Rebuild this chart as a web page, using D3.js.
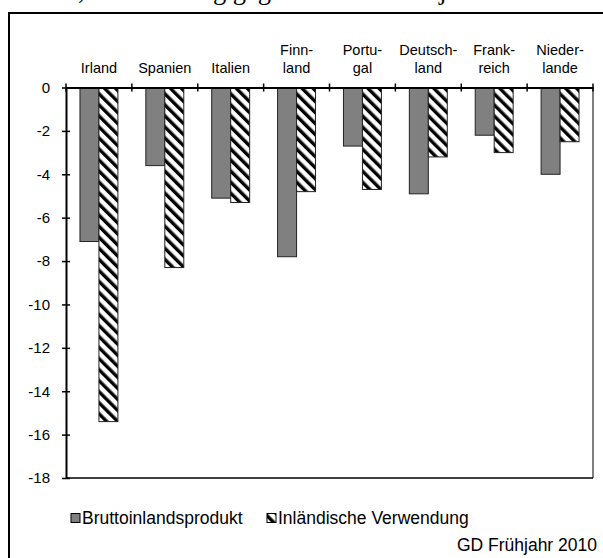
<!DOCTYPE html>
<html>
<head>
<meta charset="utf-8">
<script src="https://cdn.jsdelivr.net/npm/d3@7"></script>
<style>
  body { margin: 0; background: #fff; }
  svg text { font-family: Arial, "Liberation Sans", sans-serif; }
</style>
</head>
<body>
<svg width="603" height="558"></svg>
<script>
(function() {

  // data
  var categories = ['Irland', 'Spanien', 'Italien', 'Finn-\nland', 'Portu-\ngal', 'Deutsch-\nland', 'Frank-\nreich', 'Nieder-\nlande'];
  var bip = [-7.1, -3.6, -5.1, -7.8, -2.7, -4.9, -2.2, -4.0];
  var inlVerw = [-15.4, -8.3, -5.3, -4.8, -4.7, -3.2, -3.0, -2.5];
  var seriesNames = ['Bruttoinlandsprodukt', 'Inländische Verwendung'];
  var yTicks = [0, -2, -4, -6, -8, -10, -12, -14, -16, -18];

  var svg = d3.select('svg');

  // hatch for the second series
  var defs = svg.append('defs');
  defs.append('pattern')
    .attr('id', 'hatch')
    .attr('patternUnits', 'userSpaceOnUse')
    .attr('width', 7.8)
    .attr('height', 7.8)
    .attr('patternTransform', 'rotate(-45)')
    .call(function(p) {
      p.append('rect').attr('width', 7.8).attr('height', 7.8).attr('fill', '#fff');
      p.append('rect').attr('width', 3.4).attr('height', 7.8).attr('fill', '#000');
    });

  // title line, mostly cut off by the top of the picture
  svg.append('text')
    .attr('x', 25)
    .attr('y', -1)
    .style('font-family', '"Liberation Serif", "Times New Roman", serif')
    .style('font-size', '26.5px')
    .text('2009, Veränderung gegenüber dem Vorjahr in %');

  // outer frame (right and bottom edges fall outside the picture)
  svg.append('rect')
    .attr('x', 9)
    .attr('y', 13)
    .attr('width', 620)
    .attr('height', 600)
    .attr('fill', 'none')
    .attr('stroke', '#000')
    .attr('stroke-width', 2);

  var x = d3.scaleBand()
    .domain(categories)
    .range([66, 593])
    .paddingInner(0.424)
    .paddingOuter(0.212);

  var x1 = d3.scaleBand()
    .domain(seriesNames)
    .range([0, x.bandwidth()]);

  var y = d3.scaleLinear()
    .domain([-18, 0])
    .range([478, 87.5]);

  var rows = categories.map(function(c, i) {
    return {cat: c, values: [bip[i], inlVerw[i]]};
  });

  // plot area border (right, bottom)
  svg.append('line')
    .attr('x1', 593).attr('x2', 593)
    .attr('y1', y(0)).attr('y2', y(-18))
    .attr('stroke', '#555').attr('stroke-width', 1.5);
  svg.append('line')
    .attr('x1', 66).attr('x2', 593)
    .attr('y1', y(-18)).attr('y2', y(-18))
    .attr('stroke', '#000').attr('stroke-width', 1.5);

  // bars
  var g = svg.selectAll('.group')
    .data(rows)
    .enter().append('g')
    .attr('class', 'group')
    .attr('transform', function(d) { return 'translate(' + x(d.cat) + ',0)'; });

  g.selectAll('rect')
    .data(function(d) {
      return d.values.map(function(v, k) { return {name: seriesNames[k], value: v}; });
    })
    .enter().append('rect')
    .attr('x', function(d) { return x1(d.name); })
    .attr('y', y(0))
    .attr('width', x1.bandwidth())
    .attr('height', function(d) { return y(d.value) - y(0); })
    .attr('fill', function(d) {
      if (d.name === seriesNames[0]) {
        return '#808080';
      } else {
        return 'url(#hatch)';
      }
    })
    .attr('stroke', '#222')
    .attr('stroke-width', 1);

  // y axis
  var yAxis = svg.append('g')
    .attr('transform', 'translate(66,0)')
    .call(d3.axisLeft(y).tickValues(yTicks).tickSize(0).tickPadding(16).tickFormat(d3.format('d')));
  yAxis.select('.domain').attr('stroke', '#000').attr('stroke-width', 2);
  yAxis.selectAll('text')
    .style('font-size', '15px')
    .attr('fill', '#000')
    .text(function(d) { return d === 0 ? '0' : '-' + Math.abs(d); });
  yAxis.selectAll('.tick').append('line')
    .attr('x1', -4).attr('x2', 4)
    .attr('stroke', '#000').attr('stroke-width', 1.5);

  // x axis along zero, labels on top
  var xAxis = svg.append('g')
    .attr('transform', 'translate(0,' + y(0) + ')')
    .call(d3.axisTop(x).tickSize(0).tickFormat(''));
  xAxis.select('.domain').attr('stroke', '#000').attr('stroke-width', 2);

  var edges = d3.range(categories.length + 1).map(function(i) {
    return 66 + i * (593 - 66) / categories.length;
  });
  xAxis.selectAll('.edge')
    .data(edges)
    .enter().append('line')
    .attr('class', 'edge')
    .attr('x1', function(d) { return d; })
    .attr('x2', function(d) { return d; })
    .attr('y1', -4).attr('y2', 4)
    .attr('stroke', '#000').attr('stroke-width', 1.5);

  var labels = svg.selectAll('.cat')
    .data(categories)
    .enter().append('text')
    .attr('class', 'cat')
    .attr('text-anchor', 'middle')
    .style('font-size', '14.5px')
    .attr('transform', function(d) { return 'translate(' + (x(d) + x.bandwidth() / 2) + ',73)'; });
  labels.selectAll('tspan')
    .data(function(d) { return d.split('\n'); })
    .enter().append('tspan')
    .attr('x', 0)
    .attr('y', function(d, i, nodes) { return (i - nodes.length + 1) * 18; })
    .text(function(d) { return d; });

  // legend
  var legend = svg.selectAll('.legend')
    .data(seriesNames)
    .enter().append('g')
    .attr('class', 'legend')
    .attr('transform', function(d, i) { return 'translate(' + [71, 267][i] + ',518)'; });
  legend.append('rect')
    .attr('x', 0).attr('y', -4.5)
    .attr('width', 9).attr('height', 9)
    .attr('fill', function(d, i) { return i === 0 ? '#808080' : 'url(#hatch)'; })
    .attr('stroke', '#000').attr('stroke-width', 1);
  legend.append('text')
    .attr('x', 11).attr('y', 6)
    .style('font-size', '17.5px')
    .text(function(d) { return d; });

  svg.append('text')
    .attr('x', 597).attr('y', 551)
    .attr('text-anchor', 'end')
    .style('font-size', '17.5px')
    .text('GD Frühjahr 2010');

})();
</script>
</body>
</html>
